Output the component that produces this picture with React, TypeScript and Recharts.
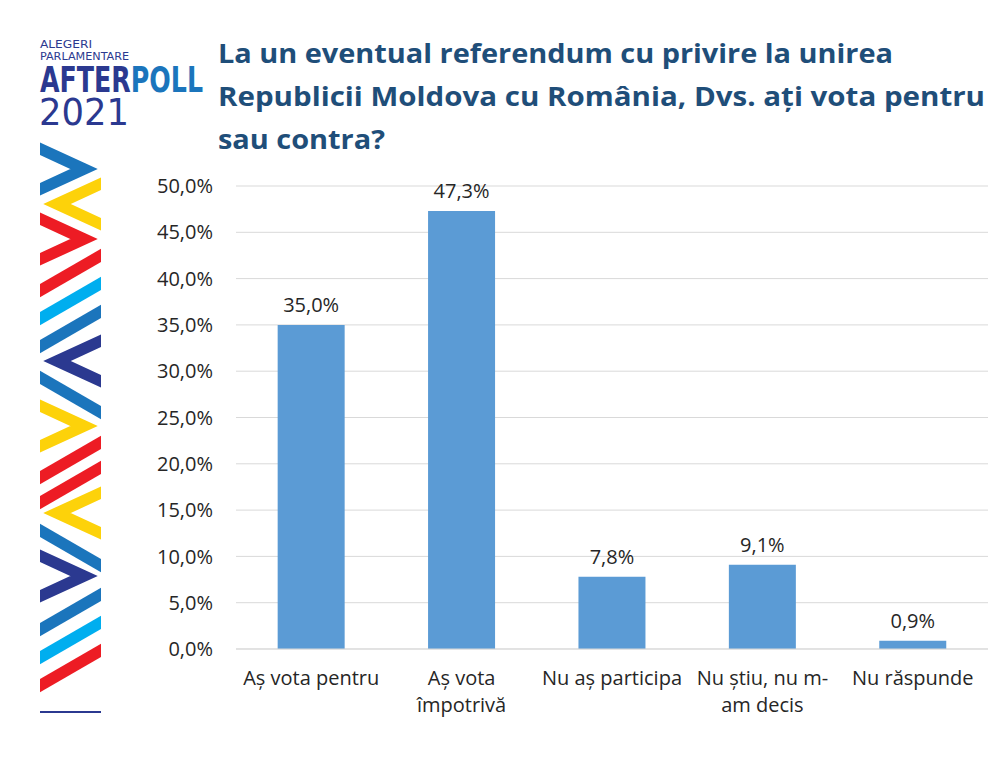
import React from 'react';
import { BarChart, Bar, XAxis, YAxis, CartesianGrid, LabelList } from 'recharts';

const categoryLines: string[][] = [
  ['Aș vota pentru'],
  ['Aș vota', 'împotrivă'],
  ['Nu aș participa'],
  ['Nu știu, nu m-', 'am decis'],
  ['Nu răspunde'],
];
const shares = [35.0, 47.3, 7.8, 9.1, 0.9];
const yTicks = [0, 5, 10, 15, 20, 25, 30, 35, 40, 45, 50];

const titleLines = [
  'La un eventual referendum cu privire la unirea',
  'Republicii Moldova cu România, Dvs. ați vota pentru',
  'sau contra?',
];

const data = categoryLines.map((lines, i) => ({ name: lines.join(' '), lines, value: shares[i] }));

const fmt = (v: number) => v.toFixed(1).replace('.', ',') + '%';

const BLUE = '#1b75bc';
const YELLOW = '#fdd20a';
const RED = '#ed1c24';
const CYAN = '#00aeef';
const NAVY = '#2b3990';
const FONT = "'Open Sans', sans-serif";

// decorative strip: kind, color, top y
const strip: [string, string, number][] = [
  ['>', BLUE, 143],
  ['<', YELLOW, 178],
  ['>', RED, 213],
  ['/', RED, 248],
  ['/', CYAN, 276],
  ['/', BLUE, 304],
  ['<', NAVY, 335],
  ['\\', BLUE, 370],
  ['>', YELLOW, 400],
  ['/', RED, 435],
  ['/', RED, 460],
  ['<', YELLOW, 487],
  ['\\', BLUE, 523],
  ['>', NAVY, 550],
  ['/', BLUE, 587],
  ['/', CYAN, 615],
  ['/', RED, 643],
];

function StripShape({ kind, color, y }: { kind: string; color: string; y: number }) {
  const h = 52;
  let pts = '';
  if (kind === '>') pts = `34,${y + 3} 84,${y + h / 2} 34,${y + h - 3}`;
  else if (kind === '<') pts = `107,${y + 3} 57,${y + h / 2} 107,${y + h - 3}`;
  else if (kind === '/') pts = `34,${y + 46} 107,${y + 4}`;
  else pts = `34,${y + 4} 107,${y + 46}`;
  return (
    <polyline points={pts} fill="none" stroke={color} strokeWidth={11.5} strokeLinejoin="miter" strokeMiterlimit={10} />
  );
}

function XTick(props: any) {
  const { x, y, payload, index } = props;
  const lines = categoryLines[index] || [payload.value];
  return (
    <g>
      {lines.map((l, i) => (
        <text key={i} x={x} y={y + 28 + i * 27} textAnchor="middle" fontSize={20} fill="#262626" fontFamily={FONT}>
          {l}
        </text>
      ))}
    </g>
  );
}

export default function App() {
  return (
    <div style={{ position: 'absolute', left: 0, top: 0, width: 1000, height: 761, background: '#fff', overflow: 'hidden' }}>
      <svg width={1000} height={761} style={{ position: 'absolute', left: 0, top: 0 }}>
        <defs>
          <clipPath id="stripClip">
            <rect x={40} y={140} width={61} height={560} />
          </clipPath>
        </defs>
        <g clipPath="url(#stripClip)">
          {strip.map(([k, c, y], i) => (
            <StripShape key={i} kind={k} color={c} y={y} />
          ))}
        </g>
        <line x1={40} x2={101} y1={712} y2={712} stroke={NAVY} strokeWidth={2} />
        <g fontFamily="'DejaVu Sans Condensed', 'DejaVu Sans', sans-serif" fill={NAVY}>
          <text x={40} y={48} fontSize={11} textLength={52} lengthAdjust="spacingAndGlyphs">ALEGERI</text>
          <text x={40} y={60} fontSize={11} textLength={89} lengthAdjust="spacingAndGlyphs">PARLAMENTARE</text>
          <text x={40} y={92} fontSize={35} fontWeight="bold" textLength={163} lengthAdjust="spacingAndGlyphs">
            AFTER<tspan fill={BLUE}>POLL</tspan>
          </text>
          <text x={39} y={125} fontSize={37} textLength={90} lengthAdjust="spacingAndGlyphs">2021</text>
        </g>
        <g fontFamily={FONT} fontWeight="bold" fontSize={27} fill="#1f4e79">
          <text x={218} y={63} textLength={675} lengthAdjust="spacingAndGlyphs">{titleLines[0]}</text>
          <text x={218} y={106} textLength={767} lengthAdjust="spacingAndGlyphs">{titleLines[1]}</text>
          <text x={218} y={149} textLength={167} lengthAdjust="spacingAndGlyphs">{titleLines[2]}</text>
        </g>
      </svg>
      <div style={{ position: 'absolute', left: 0, top: 0 }}>
        <BarChart
          width={1000}
          height={761}
          data={data}
          margin={{ top: 186, right: 12, bottom: 32, left: 0 }}
          barCategoryGap="27.7%"
        >
          <CartesianGrid vertical={false} stroke="#d9d9d9" />
          <XAxis
            dataKey="name"
            height={80}
            axisLine={{ stroke: '#d9d9d9' }}
            tickLine={false}
            interval={0}
            tick={<XTick />}
          />
          <YAxis
            width={236}
            domain={[0, 50]}
            ticks={yTicks}
            tickFormatter={fmt}
            axisLine={false}
            tickLine={false}
            tickMargin={17}
            tick={{ fontSize: 20, fill: '#262626', fontFamily: FONT }}
          />
          <Bar dataKey="value" fill="#5b9bd5" isAnimationActive={false}>
            <LabelList
              dataKey="value"
              position="top"
              offset={13}
              formatter={(v: any) => fmt(Number(v))}
              style={{ fontSize: 20, fill: '#262626', fontFamily: FONT }}
            />
          </Bar>
        </BarChart>
      </div>
    </div>
  );
}
